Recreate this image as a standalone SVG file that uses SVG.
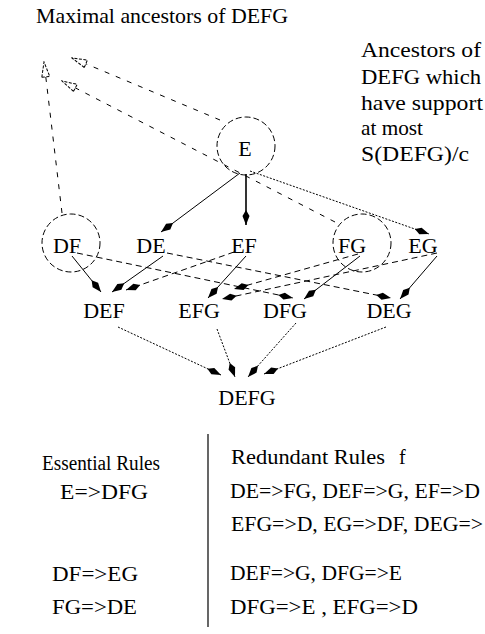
<svg xmlns="http://www.w3.org/2000/svg" width="485" height="634" viewBox="0 0 485 634">
<style>
text { font-family: "Liberation Serif", "Times New Roman", serif; font-size: 22px; fill: #000; }
.lbl { text-anchor: middle; font-size: 22px; }
.hdr { font-size: 20px; }
.circ { fill: none; stroke: #000; stroke-width: 1; stroke-dasharray: 6 3; }
.e { fill: none; stroke: #000; stroke-width: 1; marker-end: url(#ah); }
.thick { stroke-width: 1.6; }
.dot { stroke-dasharray: 2 1.5; }
.dash { stroke-dasharray: 6 4; }
.anc { fill: none; stroke: #000; stroke-width: 1; stroke-dasharray: 5 7; marker-end: url(#tri); }
</style>
<defs>
<marker id="ah" viewBox="0 0 15 9" refX="15" refY="4.5" markerWidth="15" markerHeight="9" orient="auto" markerUnits="userSpaceOnUse">
<path d="M0,4.5 L6,1 L15,4.5 L6,8 Z" fill="#000"/>
</marker>
<marker id="tri" viewBox="-1 -1 17 12" refX="15" refY="5" markerWidth="17" markerHeight="12" orient="auto" markerUnits="userSpaceOnUse">
<path d="M0,1 L15,5 L0,9 Z" fill="#fff" stroke="#000" stroke-width="1" stroke-dasharray="3 1.5"/>
</marker>
</defs>
<rect width="485" height="634" fill="#fff"/>

<g id="captions">
<text x="36" y="23" textLength="252" lengthAdjust="spacingAndGlyphs">Maximal ancestors of DEFG</text>
<text x="361" y="57" textLength="120" lengthAdjust="spacingAndGlyphs">Ancestors of</text>
<text x="361" y="84" textLength="120" lengthAdjust="spacingAndGlyphs">DEFG which</text>
<text x="361" y="110" textLength="122" lengthAdjust="spacingAndGlyphs">have support</text>
<text x="361" y="135" textLength="62" lengthAdjust="spacingAndGlyphs">at most</text>
<text x="361" y="161" textLength="108" lengthAdjust="spacingAndGlyphs">S(DEFG)/c</text>
</g>

<g id="connectors">
<line class="anc" x1="62" y1="213" x2="44" y2="62"/>
<line class="anc" x1="220" y1="120" x2="72" y2="58"/>
<line class="anc" x1="335" y1="222" x2="62" y2="81"/>
<line class="e" x1="240" y1="173" x2="161" y2="232"/>
<line class="e thick" x1="246" y1="174" x2="246" y2="225"/>
<line class="e dot" x1="250" y1="171" x2="429" y2="234"/>
<line class="e" x1="72" y1="256" x2="101" y2="292"/>
<line class="e" x1="163" y1="256" x2="112" y2="292"/>
<line class="e" x1="246" y1="256" x2="208" y2="298"/>
<line class="e" x1="360" y1="256" x2="304" y2="299"/>
<line class="e" x1="437" y1="256" x2="400" y2="299"/>
<line class="e dash" x1="77" y1="253" x2="293" y2="298"/>
<line class="e dash" x1="167" y1="253" x2="391" y2="298"/>
<line class="e dash" x1="234" y1="252" x2="126" y2="290"/>
<line class="e dash" x1="358" y1="254" x2="234" y2="289"/>
<line class="e dash" x1="437" y1="253" x2="222" y2="299"/>
<line class="e dot" x1="118" y1="327" x2="221" y2="375"/>
<line class="e dot" x1="217" y1="329" x2="235" y2="377"/>
<line class="e dot" x1="296" y1="323" x2="248" y2="377"/>
<line class="e dot" x1="386" y1="327" x2="264" y2="374"/>
</g>

<g id="n-E"><circle class="circ" cx="246" cy="146" r="29"/><text class="lbl" x="245" y="156">E</text></g>
<g id="n-DF"><circle class="circ" cx="71" cy="243" r="29"/><text class="lbl" x="67" y="253">DF</text></g>
<g id="n-DE"><text class="lbl" x="151" y="253">DE</text></g>
<g id="n-EF"><text class="lbl" x="244" y="253">EF</text></g>
<g id="n-FG"><circle class="circ" cx="362" cy="243" r="29"/><text class="lbl" x="352" y="253">FG</text></g>
<g id="n-EG"><text class="lbl" x="423" y="253">EG</text></g>
<g id="n-DEF"><text class="lbl" x="104" y="318">DEF</text></g>
<g id="n-EFG"><text class="lbl" x="199" y="318">EFG</text></g>
<g id="n-DFG"><text class="lbl" x="285" y="318">DFG</text></g>
<g id="n-DEG"><text class="lbl" x="389" y="318">DEG</text></g>
<g id="n-DEFG"><text class="lbl" x="247" y="405">DEFG</text></g>

<g id="rules">
<line x1="208" y1="434" x2="208" y2="627" stroke="#000" stroke-width="1.2"/>
<text class="hdr" x="42" y="470" textLength="118" lengthAdjust="spacingAndGlyphs">Essential Rules</text>
<text x="60" y="499" textLength="88" lengthAdjust="spacingAndGlyphs">E=&gt;DFG</text>
<text x="52" y="581" textLength="86" lengthAdjust="spacingAndGlyphs">DF=&gt;EG</text>
<text x="52" y="614" textLength="85" lengthAdjust="spacingAndGlyphs">FG=&gt;DE</text>
<text class="hdr" x="231" y="464" textLength="154" lengthAdjust="spacingAndGlyphs">Redundant Rules</text>
<text class="hdr" x="399" y="464">f</text>
<text x="230" y="498" textLength="250" lengthAdjust="spacingAndGlyphs">DE=&gt;FG, DEF=&gt;G, EF=&gt;D</text>
<text x="231" y="531" textLength="252" lengthAdjust="spacingAndGlyphs">EFG=&gt;D, EG=&gt;DF, DEG=&gt;</text>
<text x="230" y="580" textLength="172" lengthAdjust="spacingAndGlyphs">DEF=&gt;G, DFG=&gt;E</text>
<text x="230" y="614" textLength="188" lengthAdjust="spacingAndGlyphs">DFG=&gt;E , EFG=&gt;D</text>
</g>
</svg>
